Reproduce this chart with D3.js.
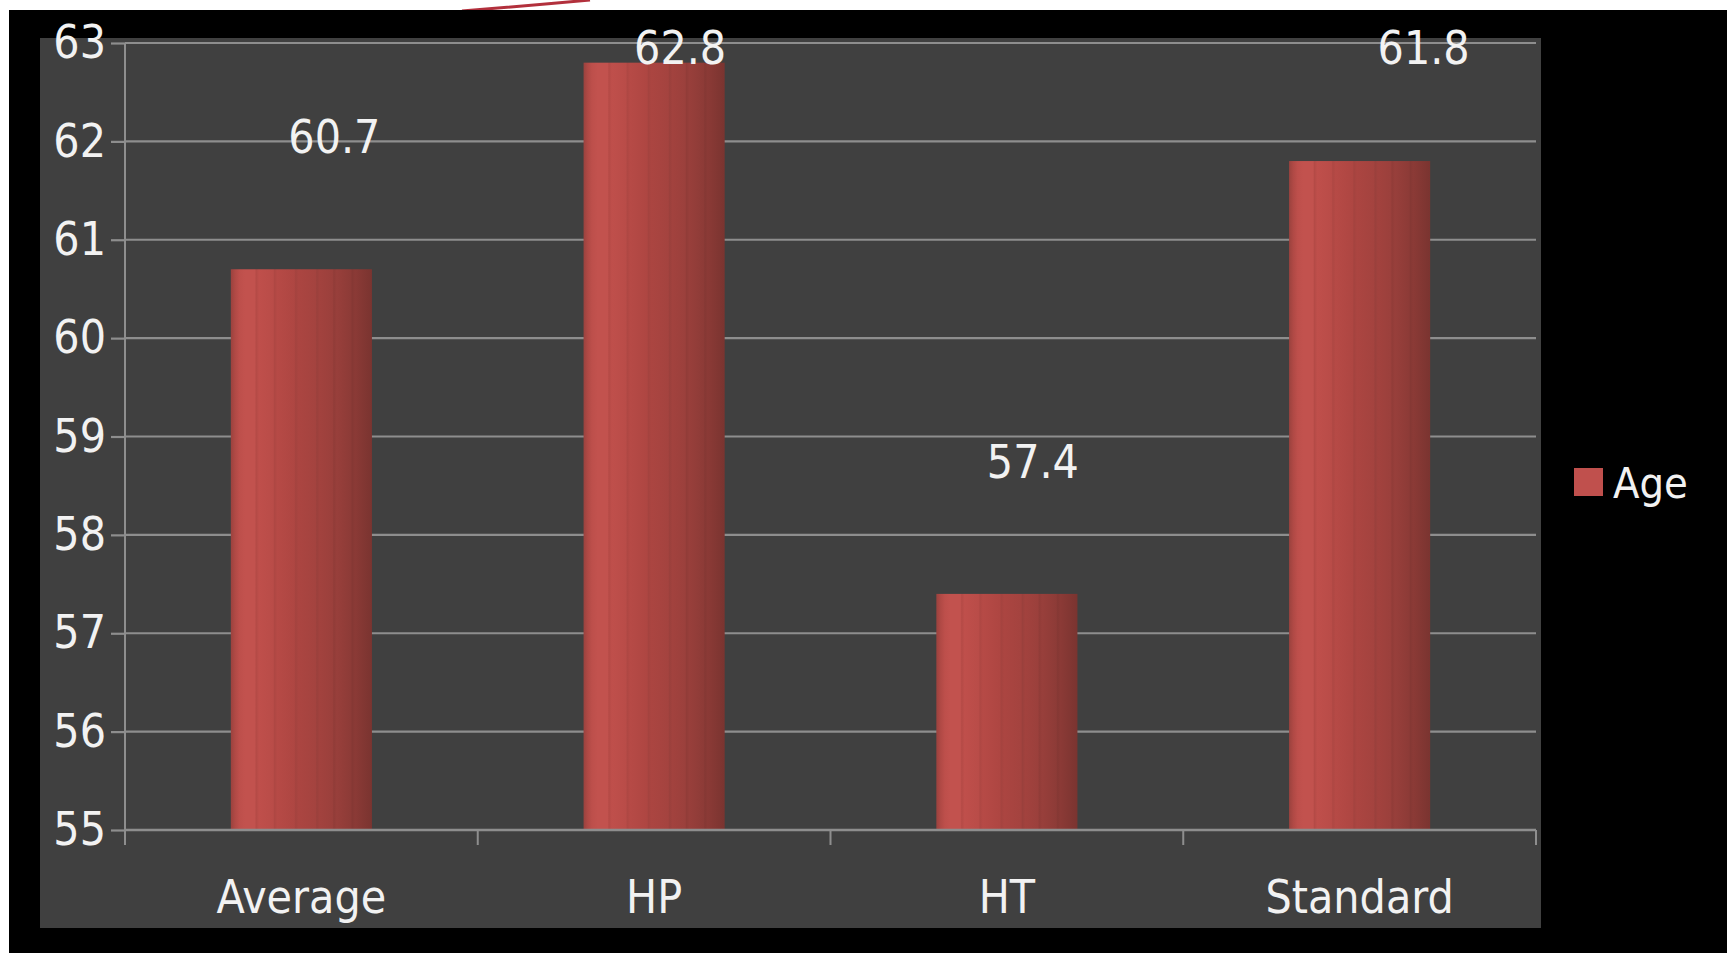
<!DOCTYPE html>
<html>
<head>
<meta charset="utf-8">
<script src="https://cdn.jsdelivr.net/npm/d3@7"></script>
<style>
  body { margin: 0; background: #fff; }
  svg { display: block; }
  text { font-family: "DejaVu Sans Condensed", "DejaVu Sans", sans-serif; fill: #f2f2f2; }
</style>
</head>
<body>
<svg id="chart"></svg>
<script>
// chart data
const categories = ["Average", "HP", "HT", "Standard"];
const ageValues = [60.7, 62.8, 57.4, 61.8];
const yTicks = [55, 56, 57, 58, 59, 60, 61, 62, 63];
const seriesName = "Age";

// value labels sit a bit right of their bars in the original
const labelShift = [33, 26, 26, 64];

const width = 1727, height = 953;
const svg = d3.select("#chart").attr("width", width).attr("height", height);

// bar gradient to mimic the striped column fill
const stops = [
    [0, "#9a423e"], [0.03, "#b04945"], [0.06, "#bd4f4b"], [0.1, "#c2524e"],
    [0.17, "#c2524e"], [0.18, "#b44a46"], [0.2, "#bf4f4b"], [0.3, "#b94c48"],
    [0.31, "#ae4743"], [0.33, "#b64a46"], [0.45, "#ae4642"], [0.46, "#a4433f"],
    [0.48, "#ab4541"], [0.6, "#a4433f"], [0.61, "#9a403c"], [0.63, "#a2423e"],
    [0.72, "#9b403c"], [0.73, "#913c38"], [0.75, "#983f3b"], [0.85, "#8d3b37"],
    [0.86, "#853834"], [0.88, "#8b3a36"], [1, "#7a3430"]
];
const grad = svg.append("defs").append("linearGradient")
    .attr("id", "barFill")
    .attr("x1", "0%").attr("x2", "100%").attr("y1", "0%").attr("y2", "0%");
grad.selectAll("stop").data(stops).enter().append("stop")
    .attr("offset", d => d[0])
    .attr("stop-color", d => d[1]);

// slide leftovers: white strip with a red curve, black frame, grey plot box
svg.append("path")
    .attr("d", "M462,11 Q525,6 590,0")
    .attr("fill", "none")
    .attr("stroke", "#b2303c")
    .attr("stroke-width", 3);
svg.append("rect").attr("x", 9).attr("y", 10).attr("width", width - 9).attr("height", height - 10).attr("fill", "#000");
svg.append("rect").attr("x", 40).attr("y", 38).attr("width", 1501).attr("height", 890).attr("fill", "#404040");

const plotLeft = 125, plotRight = 1536, plotTop = 43, plotBottom = 830;

const y = d3.scaleLinear().domain([55, 63]).range([plotBottom, plotTop]);
const x = d3.scaleBand().domain(categories).range([plotLeft, plotRight]).padding(0);
const barW = x.bandwidth() * 0.4;

const gridColor = "#8e8e8e";

// gridlines
svg.append("g").selectAll("line")
    .data(yTicks)
    .enter().append("line")
    .attr("x1", plotLeft).attr("x2", plotRight)
    .attr("y1", d => y(d)).attr("y2", d => y(d))
    .attr("stroke", gridColor)
    .attr("stroke-width", 2.2);

// bars
svg.append("g").selectAll("rect")
    .data(categories)
    .enter().append("rect")
    .attr("x", d => x(d) + (x.bandwidth() - barW) / 2)
    .attr("y", (d, i) => y(ageValues[i]))
    .attr("width", barW)
    .attr("height", (d, i) => y(55) - y(ageValues[i]))
    .attr("fill", "url(#barFill)");

// y axis
const yAxis = svg.append("g")
    .attr("transform", `translate(${plotLeft},0)`)
    .call(d3.axisLeft(y).tickValues(yTicks).tickSizeInner(14).tickSizeOuter(0).tickPadding(5));
yAxis.select(".domain").remove();
yAxis.selectAll(".tick line").attr("stroke", gridColor).attr("stroke-width", 2.2);
yAxis.selectAll(".tick text")
    .attr("font-size", 46)
    .attr("fill", "#f2f2f2")
    .attr("font-family", "DejaVu Sans Condensed, DejaVu Sans, sans-serif");

svg.append("line")
    .attr("x1", plotLeft).attr("x2", plotLeft)
    .attr("y1", plotTop).attr("y2", plotBottom + 15)
    .attr("stroke", gridColor).attr("stroke-width", 2);

// x axis baseline and boundary ticks
svg.append("line")
    .attr("x1", plotLeft).attr("x2", plotRight)
    .attr("y1", plotBottom).attr("y2", plotBottom)
    .attr("stroke", gridColor).attr("stroke-width", 2.5);
const bounds = categories.map(c => x(c)).concat([x.range()[1]]);
svg.append("g").selectAll("line")
    .data(bounds)
    .enter().append("line")
    .attr("x1", d => d).attr("x2", d => d)
    .attr("y1", plotBottom).attr("y2", plotBottom + 15)
    .attr("stroke", gridColor).attr("stroke-width", 2);

// category labels
svg.append("g").selectAll("text")
    .data(categories)
    .enter().append("text")
    .attr("x", d => x(d) + x.bandwidth() / 2)
    .attr("y", 913)
    .attr("text-anchor", "middle")
    .attr("font-size", 46)
    .text(d => d);

// value labels
svg.append("g").selectAll("text")
    .data(ageValues)
    .enter().append("text")
    .attr("x", (d, i) => x(categories[i]) + x.bandwidth() / 2 + labelShift[i])
    .attr("y", d => y(Math.min(d + 1.35, 62.95)))
    .attr("dy", "0.36em")
    .attr("text-anchor", "middle")
    .attr("font-size", 46)
    .text(d => d.toFixed(1));

// legend
const legend = svg.append("g").attr("transform", "translate(1574,468)");
legend.append("rect").attr("width", 29).attr("height", 28).attr("fill", "#c0504d");
legend.append("text")
    .attr("x", 39).attr("y", 30)
    .attr("font-size", 43)
    .text(seriesName);
</script>
</body>
</html>
